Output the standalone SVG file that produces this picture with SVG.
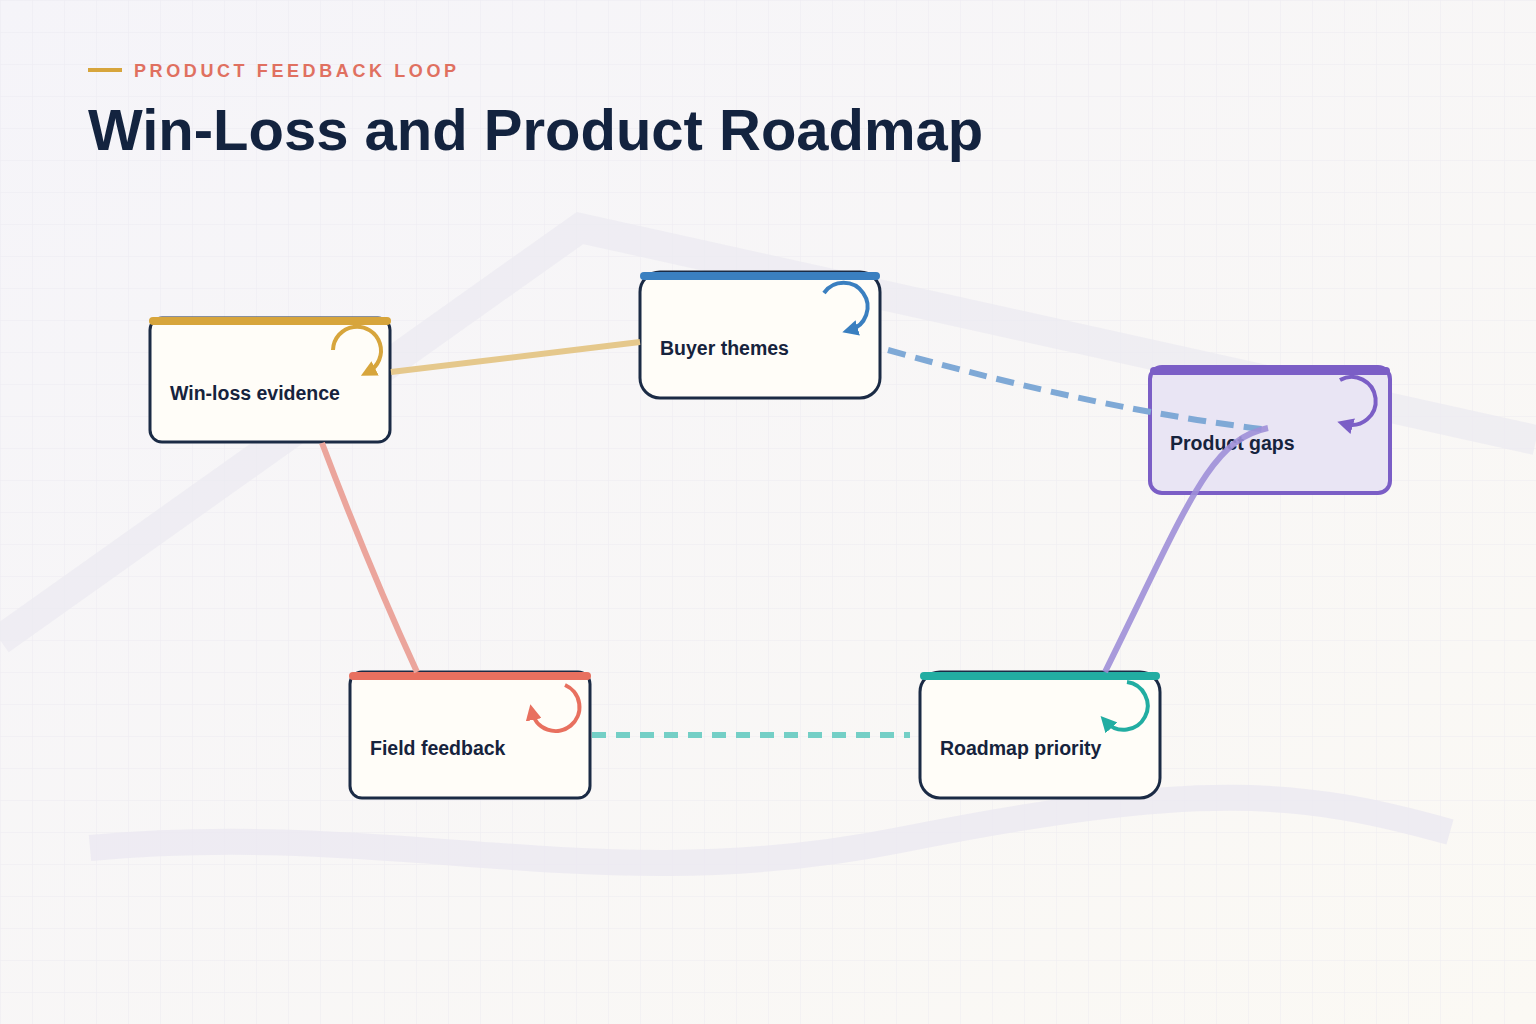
<svg xmlns="http://www.w3.org/2000/svg" width="1536" height="1024" viewBox="0 0 1536 1024">
<defs>
<pattern id="grid" width="32" height="32" patternUnits="userSpaceOnUse"><path d="M32 0H0V32" fill="none" stroke="#e6e4ee" stroke-width="1"/></pattern>
<linearGradient id="bg" x1="0" y1="0" x2="1" y2="1"><stop offset="0" stop-color="#f5f4f9"/><stop offset="1" stop-color="#fbf9f4"/></linearGradient>
<marker id="ah" viewBox="0 0 10 10" refX="5" refY="5" markerWidth="4" markerHeight="4" orient="auto"><path d="M0 0L10 5L0 10z" fill="context-stroke"/></marker>
</defs>
<style>
.box{stroke:#1b2b45;stroke-width:3}
.lbl{font-family:"Liberation Sans",Arial,sans-serif;font-weight:bold;font-size:19.5px;fill:#16233d}
.cap{stroke-width:8;stroke-linecap:round}
.loop{fill:none;stroke-width:4;marker-end:url(#ah)}
.conn{fill:none;stroke-width:6}
</style>
<rect width="1536" height="1024" fill="url(#bg)"/>
<rect width="1536" height="1024" fill="url(#grid)" opacity="0.6"/>
<path d="M0 640L580 228L1536 440" fill="none" stroke="#ebe9f1" stroke-width="30" opacity="0.7"/>
<path d="M90 848C400 820 600 900 900 840S1300 790 1450 832" fill="none" stroke="#ebe9f1" stroke-width="26" opacity="0.8"/>
<line x1="88" y1="70" x2="122" y2="70" stroke="#d7a53c" stroke-width="4"/>
<text x="134" y="77" font-family="'Liberation Sans',Arial,sans-serif" font-size="18" font-weight="bold" letter-spacing="3.6" fill="#e07060">PRODUCT FEEDBACK LOOP</text>
<text x="88" y="150" font-family="'Liberation Sans',Arial,sans-serif" font-weight="bold" font-size="58" fill="#13233f">Win-Loss and Product Roadmap</text>
<g id="node-winloss">
<rect class="box" x="150" y="318" width="240" height="124" rx="12" fill="#fffdf8"/>
<line class="cap" x1="153" y1="321" x2="387" y2="321" stroke="#d7a53c"/>
<path class="loop" d="M333 350A24 24 0 1 1 368 372" stroke="#d7a53c"/>
<text class="lbl" x="170" y="400">Win-loss evidence</text>
</g>
<g id="node-buyer">
<rect class="box" x="640" y="272" width="240" height="126" rx="20" fill="#fffdf8"/>
<line class="cap" x1="644" y1="276" x2="876" y2="276" stroke="#3a7fc0"/>
<path class="loop" d="M824 293A24 24 0 1 1 850 330" stroke="#3a7fc0"/>
<text class="lbl" x="660" y="355">Buyer themes</text>
</g>
<g id="node-field">
<rect class="box" x="350" y="672" width="240" height="126" rx="12" fill="#fffdf8"/>
<line class="cap" x1="353" y1="676" x2="587" y2="676" stroke="#e8705f"/>
<path class="loop" d="M565 685A24 24 0 1 1 532 712" stroke="#e8705f"/>
<text class="lbl" x="370" y="755">Field feedback</text>
</g>
<g id="node-roadmap">
<rect class="box" x="920" y="672" width="240" height="126" rx="20" fill="#fffdf8"/>
<line class="cap" x1="924" y1="676" x2="1156" y2="676" stroke="#22ada2"/>
<path class="loop" d="M1127 682A24 24 0 1 1 1106 722" stroke="#22ada2"/>
<text class="lbl" x="940" y="755">Roadmap priority</text>
</g>
<g id="node-gaps">
<rect x="1150" y="367" width="240" height="126" rx="12" fill="#e9e5f4" stroke="#7b5ec6" stroke-width="4"/>
<line class="cap" x1="1154" y1="371" x2="1386" y2="371" stroke="#7b5ec6"/>
<path class="loop" d="M1340 380A24 24 0 1 1 1345 424" stroke="#7b5ec6"/>
<text class="lbl" x="1170" y="450">Product gaps</text>
</g>
<g id="connectors">
<path class="conn" d="M391 372L640 342" stroke="#e5c88c"/>
<path class="conn" d="M888 350Q1100 410 1270 430" stroke="#7fa9d6" stroke-dasharray="18 10"/>
<path class="conn" d="M1268 428C1210 440 1190 500 1105 672" stroke="#9f8fd8" opacity="0.9"/>
<path class="conn" d="M322 443Q370 570 417 672" stroke="#eba59c"/>
<path class="conn" d="M592 735L910 735" stroke="#74cfc6" stroke-dasharray="14 10"/>
</g>
</svg>
